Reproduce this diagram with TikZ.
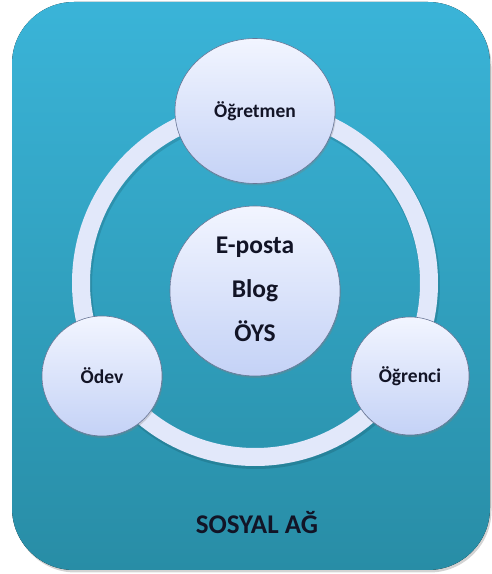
\documentclass[tikz,border=0pt]{standalone}
\usepackage{fontspec}
\setmainfont{Carlito}
\usepackage{xcolor}
\usetikzlibrary{positioning,shapes.geometric,shadows,calc}

\definecolor{panelTop}{RGB}{58,180,216}
\definecolor{panelBot}{RGB}{40,141,166}
\definecolor{bubbleTop}{RGB}{242,245,255}
\definecolor{bubbleBot}{RGB}{196,210,246}
\definecolor{bubbleLine}{RGB}{105,118,150}
\definecolor{ringCol}{RGB}{226,232,250}
\definecolor{inkCol}{RGB}{18,20,38}

\begin{document}
\begin{tikzpicture}[x=1pt, y=1pt]
        \tikzset{bubble/.style={circle, draw=bubbleLine, line width=0.6pt, inner sep=0pt,
                 top color=bubbleTop, bottom color=bubbleBot, text=inkCol,
                 drop shadow={shadow xshift=1pt, shadow yshift=-2pt, opacity=0.3}}}
        \tikzset{tagtext/.style={font=\bfseries\fontsize{19.5}{22}\selectfont}}
        \useasboundingbox (0,0) rectangle (491,574);

        % panel
        \fill[rounded corners=62pt, top color=panelTop, bottom color=panelBot,
              drop shadow={shadow xshift=1.5pt, shadow yshift=-2.5pt, opacity=0.35}]
              (12,4) rectangle (490,572);

        % ring
        \coordinate (hub) at (255,291);
        \draw[line width=20pt, black, opacity=0.12] ($(hub)+(1,-2)$) circle (174);
        \draw[line width=18pt, ringCol] (hub) circle (174);

        \node [bubble, ellipse, minimum width=160pt, minimum height=145pt, tagtext] (teacher) at (255,463) {Öğretmen};
        \node [bubble, minimum size=170pt, align=center, text depth=0pt,
               font=\bfseries\fontsize{25.5}{44}\selectfont] (tools) at (255,283) {\raisebox{3pt}{E-posta}\\\raisebox{3pt}{Blog}\\\raisebox{3pt}{ÖYS}};
        \node [bubble, minimum size=120pt, tagtext] (homework) at (102,198) {Ödev};
        \node [bubble, minimum size=118pt, tagtext] (student) at (410,198) {Öğrenci};

        \node [text=inkCol, font=\bfseries\fontsize{27}{30}\selectfont] (title) at (257,51) {SOSYAL AĞ};
    \end{tikzpicture}
\end{document}
